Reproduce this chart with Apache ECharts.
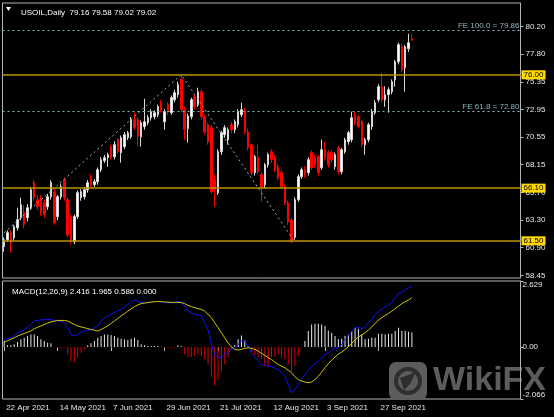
<!DOCTYPE html>
<html>
<head>
<meta charset="utf-8">
<script src="https://cdn.jsdelivr.net/npm/echarts@6/dist/echarts.min.js"></script>
<style>
html,body{margin:0;padding:0;background:#000;}
#c{width:554px;height:417px;}
</style>
</head>
<body>
<div id="c"></div>
<script>
// ---------- data ----------
const xTickLabels = ['22 Apr 2021','14 May 2021','7 Jun 2021','29 Jun 2021','21 Jul 2021','12 Aug 2021','3 Sep 2021','27 Sep 2021'];
const xTickIndex = [0,16,32,48,64,80,96,112];
const slotCount = 155;

const open = [60.99,61.60,62.20,61.77,62.64,63.52,63.96,63.52,64.39,66.58,
65.09,65.27,64.83,64.48,65.35,65.79,63.61,65.35,66.84,65.09,
63.61,61.42,63.61,65.27,65.35,65.96,67.10,66.40,66.66,67.71,
68.50,68.76,69.72,68.85,70.33,69.20,69.72,70.51,70.59,72.08,
72.08,70.59,71.47,71.82,72.25,72.34,72.51,73.56,71.90,73.39,
72.69,73.82,74.26,75.60,72.95,71.30,72.34,74.09,73.39,74.52,
72.34,71.64,71.38,66.84,65.70,69.28,70.77,70.30,71.64,71.20,
71.64,72.51,72.90,71.00,69.89,67.45,68.76,67.27,66.40,68.15,
69.28,68.76,67.97,67.45,66.23,64.83,63.30,61.80,65.09,67.10,
67.71,67.45,69.20,68.76,68.85,67.89,69.46,69.20,69.20,67.97,
69.63,67.54,69.28,70.16,70.33,72.51,72.34,71.90,69.89,70.33,
71.47,72.69,73.82,74.96,73.82,74.26,74.52,75.57,77.14,78.45,
76.62,78.28,79.16];
const close = [61.60,62.21,61.30,62.73,63.34,64.65,62.91,64.39,65.96,65.27,
64.48,63.96,63.78,65.35,66.58,63.08,65.35,66.23,65.27,62.00,
61.42,63.61,65.70,65.79,65.96,66.58,66.40,66.66,67.71,68.58,
68.76,69.02,68.76,69.89,69.28,70.51,70.77,70.94,72.08,71.38,
70.59,71.82,71.90,72.25,72.78,72.69,73.21,72.95,72.78,72.78,
74.00,74.44,75.13,72.95,71.20,72.40,73.82,73.21,74.52,72.34,
71.03,70.16,65.79,65.96,69.28,70.94,71.38,71.20,71.20,71.90,
72.78,72.95,71.00,69.63,67.45,68.85,67.54,66.14,68.15,69.02,
68.58,67.71,67.01,66.23,64.83,63.17,61.42,65.09,67.10,67.71,
67.27,68.58,67.89,68.15,67.45,69.46,68.76,68.15,68.58,69.02,
67.54,69.46,70.33,70.94,72.25,71.82,71.47,69.89,70.33,71.64,
72.78,73.56,74.96,73.82,74.26,74.70,75.40,77.14,78.63,76.44,
78.45,78.80,79.02];
const low = [60.55,61.40,60.46,61.50,62.40,63.30,62.60,63.20,64.20,65.00,
64.20,63.70,63.50,64.20,65.10,62.90,63.30,65.10,65.00,61.80,
61.20,61.20,63.40,65.00,65.10,65.70,66.10,66.20,66.40,67.50,
68.30,67.97,68.60,68.60,69.10,68.32,69.50,70.30,70.40,71.20,
69.72,69.72,71.20,71.60,72.00,72.10,72.30,72.70,71.20,72.50,
72.50,73.60,74.00,72.70,70.33,70.07,72.10,73.00,73.20,72.10,
70.80,69.90,65.60,64.48,65.50,69.00,70.50,69.90,70.90,70.90,
71.40,72.30,70.80,69.40,67.20,67.20,67.30,64.92,66.10,67.90,
68.30,67.50,66.80,66.00,64.60,62.90,61.30,61.60,64.90,66.90,
67.00,67.20,67.70,67.90,67.20,67.70,68.50,67.90,68.30,67.70,
67.30,67.30,69.10,69.90,70.10,71.60,71.30,69.70,69.02,70.10,
71.20,72.50,73.60,73.60,73.20,72.69,74.30,74.96,76.90,76.20,
74.52,78.00,79.02];
const high = [61.80,62.40,62.40,62.90,64.39,65.27,64.60,64.70,66.20,66.84,
65.50,65.50,65.10,65.60,66.80,66.00,65.50,66.50,67.01,65.30,
63.80,63.80,65.90,66.00,66.20,66.80,67.30,66.90,67.90,68.80,
69.00,69.20,69.90,70.20,70.50,70.70,71.00,71.10,72.30,72.69,
72.30,72.00,73.91,72.50,73.00,72.90,73.40,73.80,73.00,73.60,
74.20,74.70,75.40,76.01,73.20,72.60,74.00,74.30,74.87,74.70,
72.50,71.80,71.60,67.30,69.50,71.10,71.60,71.40,71.90,72.10,
73.00,73.56,73.10,71.30,70.00,69.00,69.89,67.50,68.30,69.20,
69.50,69.00,68.20,67.70,66.40,65.00,63.50,65.30,67.30,67.90,
68.00,68.80,69.40,69.00,69.00,70.33,70.16,69.40,69.40,69.20,
69.80,69.60,70.50,71.10,72.78,72.78,72.50,72.10,70.50,71.80,
73.00,73.80,75.20,76.18,75.00,74.90,75.60,77.30,78.80,78.70,
78.60,79.59,79.58];

const macdMain = [0.31,0.33,0.37,0.46,0.57,0.62,0.70,0.80,0.90,1.04,
1.06,1.08,1.09,1.10,1.10,1.06,1.04,1.02,0.97,0.77,
0.50,0.44,0.50,0.58,0.64,0.66,0.70,0.76,0.84,1.04,
1.15,1.24,1.30,1.37,1.44,1.50,1.58,1.70,1.80,1.87,
1.82,1.77,1.76,1.77,1.79,1.81,1.82,1.79,1.76,1.77,
1.76,1.77,1.82,1.79,1.63,1.43,1.36,1.30,1.28,1.24,
0.97,0.70,0.11,-0.29,-0.42,-0.39,-0.29,-0.23,-0.09,-0.03,
0.11,0.24,0.24,0.01,-0.23,-0.39,-0.56,-0.69,-0.73,-0.76,
-0.78,-0.84,-0.89,-1.02,-1.16,-1.49,-1.82,-1.69,-1.49,-1.29,
-1.09,-0.93,-0.78,-0.66,-0.56,-0.42,-0.29,-0.23,-0.13,-0.05,
-0.03,0.11,0.31,0.44,0.64,0.77,0.80,0.73,0.81,0.97,
1.10,1.30,1.43,1.50,1.61,1.67,1.77,1.97,2.14,2.16,
2.27,2.36,2.416];
const macdSignal = [0.20,0.25,0.31,0.37,0.44,0.49,0.54,0.59,0.64,0.73,
0.79,0.84,0.90,0.95,1.00,1.03,1.06,1.06,1.06,1.04,
0.97,0.90,0.84,0.80,0.77,0.73,0.70,0.67,0.64,0.70,
0.77,0.84,0.94,1.04,1.14,1.24,1.33,1.43,1.52,1.61,
1.68,1.73,1.75,1.77,1.79,1.81,1.81,1.81,1.80,1.79,
1.78,1.78,1.78,1.77,1.73,1.66,1.61,1.57,1.53,1.50,
1.43,1.30,1.17,0.97,0.77,0.57,0.37,0.17,0.01,-0.09,
-0.12,-0.09,-0.05,-0.03,-0.05,-0.09,-0.16,-0.25,-0.33,-0.42,
-0.49,-0.60,-0.69,-0.76,-0.82,-0.92,-1.02,-1.18,-1.29,-1.35,
-1.39,-1.42,-1.39,-1.29,-1.16,-1.00,-0.82,-0.66,-0.52,-0.39,
-0.28,-0.20,-0.09,0.01,0.15,0.28,0.40,0.48,0.57,0.68,
0.80,0.94,1.08,1.17,1.26,1.34,1.43,1.53,1.63,1.73,
1.81,1.87,1.965];
const macdHist = [0.25,0.07,0.07,0.11,0.20,0.31,0.37,0.44,0.50,0.50,
0.44,0.31,0.24,0.17,0.15,-0.01,-0.03,-0.07,-0.03,-0.29,
-0.56,-0.60,-0.39,-0.23,-0.09,0.07,0.15,0.24,0.37,0.44,
0.50,0.50,0.48,0.44,0.37,0.33,0.31,0.28,0.33,0.37,
0.28,0.11,0.07,0.04,0.04,0.04,0.04,0.01,-0.03,-0.05,
-0.05,-0.03,0.07,0.04,-0.29,-0.39,-0.39,-0.36,-0.29,-0.36,
-0.49,-0.69,-1.18,-1.53,-1.29,-0.96,-0.69,-0.42,-0.09,0.07,
0.31,0.46,0.27,0.04,-0.20,-0.33,-0.39,-0.46,-0.76,-0.76,
-0.39,-0.39,-0.29,-0.42,-0.49,-0.69,-0.96,-0.76,-0.36,-0.03,
0.24,0.64,0.90,0.93,0.93,0.90,0.84,0.66,0.57,0.44,
0.31,0.33,0.44,0.50,0.64,0.77,0.73,0.50,0.31,0.33,
0.37,0.37,0.53,0.53,0.50,0.53,0.53,0.64,0.77,0.64,
0.64,0.61,0.586];

const priceTicks = [58.45,60.90,63.30,65.70,68.15,70.55,72.95,75.35,77.80,80.20];
const macdTicks = [-2.066,0,2.629];
const levelLines = [76.00,66.10,61.50];
const feLevels = [{name:'FE 100.0', price:79.86},{name:'FE 61.8', price:72.80}];
const fiboIdx = [0,53,87];
const fiboPrice = [62.21,76.01,61.38];
const lastPrice = 79.02;
const titleText = 'USOIL,Daily  79.16 79.58 79.02 79.02';
const macdText = 'MACD(12,26,9) 2.416 1.965 0.586 0.000';

// ---------- build ----------
const categories = Array.from({length: slotCount}, (_, i) => String(i));
const labelAt = {};
xTickIndex.forEach((ix, k) => labelAt[ix] = xTickLabels[k]);
const candles = open.map((o, i) => [o, close[i], low[i], high[i]]);
const fiboLine = fiboIdx.map((ix, k) => [String(ix), fiboPrice[k]]);

const FONT = 'Liberation Sans';
const GREY = '#b4b4b4';
const FE_COLOR = '#8ab8c0';
const GOLD = '#b89400';

const chart = echarts.init(document.getElementById('c'), null, {renderer: 'canvas'});

const markData = [];
levelLines.forEach(v => markData.push({
  yAxis: v,
  lineStyle: {color: GOLD, width: 1.5, type: 'solid'},
  label: {show: true, position: 'end', distance: 1, formatter: v.toFixed(2),
    backgroundColor: '#ffd800', color: '#000', padding: [1, 2, 0, 2],
    fontSize: 8, fontFamily: FONT}
}));
feLevels.forEach(f => markData.push({
  yAxis: f.price,
  lineStyle: {color: FE_COLOR, width: 1, type: [2, 3]},
  label: {show: true, position: 'insideEndTop', distance: 1,
    formatter: f.name + ' = ' + f.price.toFixed(2),
    color: FE_COLOR, fontSize: 8, fontFamily: FONT}
}));
markData.push({
  yAxis: lastPrice,
  lineStyle: {opacity: 0},
  label: {show: true, position: 'end', distance: 1, formatter: lastPrice.toFixed(2),
    backgroundColor: '#ffffff', color: '#000', borderColor: '#808080', borderWidth: 1,
    padding: [1, 2, 0, 2], fontSize: 8, fontFamily: FONT}
});

const option = {
  backgroundColor: '#000000',
  animation: false,
  textStyle: {fontFamily: FONT},
  title: [
    {text: titleText, left: 16, top: 4, textStyle: {color: '#ffffff', fontSize: 8, fontWeight: 'normal', fontFamily: FONT}},
    {text: macdText, left: 7, top: 283, textStyle: {color: '#ffffff', fontSize: 8, fontWeight: 'normal', fontFamily: FONT}}
  ],
  grid: [
    {left: 2.5, top: 3, width: 518, height: 275, show: true, borderColor: GREY, borderWidth: 1, backgroundColor: 'transparent'},
    {left: 2.5, top: 281, width: 518, height: 118, show: true, borderColor: GREY, borderWidth: 1, backgroundColor: 'transparent'}
  ],
  xAxis: [
    {gridIndex: 0, type: 'category', data: categories, boundaryGap: true,
      axisLine: {show: false}, axisTick: {show: false}, axisLabel: {show: false}, splitLine: {show: false}},
    {gridIndex: 1, type: 'category', data: categories, boundaryGap: true,
      axisLine: {show: false},
      axisTick: {show: true, alignWithLabel: true, length: 4, interval: (i) => labelAt[i] !== undefined, lineStyle: {color: GREY}},
      axisLabel: {show: true, interval: (i) => labelAt[i] !== undefined, formatter: (v, i) => labelAt[i] || '',
        align: 'left', padding: [0, 0, 0, 2], margin: 5, color: '#e6e6e6', fontSize: 8, fontFamily: FONT,
        hideOverlap: false},
      splitLine: {show: false}}
  ],
  yAxis: [
    {gridIndex: 0, type: 'value', position: 'right', min: 58.25, max: 82.27, scale: true,
      axisLine: {show: true, lineStyle: {color: GREY}},
      axisTick: {show: true, inside: false, length: 3, customValues: priceTicks, lineStyle: {color: GREY}},
      axisLabel: {show: true, customValues: priceTicks, formatter: v => Number(v).toFixed(2), margin: 5,
        color: '#e6e6e6', fontSize: 8, fontFamily: FONT},
      splitLine: {show: false}},
    {gridIndex: 1, type: 'value', position: 'right', min: -2.066, max: 2.629,
      axisLine: {show: true, lineStyle: {color: GREY}},
      axisTick: {show: true, inside: false, length: 3, customValues: macdTicks, lineStyle: {color: GREY}},
      axisLabel: {show: true, customValues: macdTicks, margin: 2,
        formatter: v => (Math.abs(v) < 1e-9 ? '0.00' : Number(v).toFixed(3)),
        verticalAlignMinLabel: 'bottom', verticalAlignMaxLabel: 'top',
        color: '#e6e6e6', fontSize: 8, fontFamily: FONT},
      splitLine: {show: false}}
  ],
  series: [
    {type: 'candlestick', xAxisIndex: 0, yAxisIndex: 0, data: candles, barWidth: 2,
      itemStyle: {color: '#ffffff', borderColor: '#d8d8d8', color0: '#ff0000', borderColor0: '#ff0000', borderWidth: 1},
      markLine: {silent: true, symbol: ['none', 'none'], animation: false, data: markData}},
    {type: 'line', xAxisIndex: 0, yAxisIndex: 0, data: fiboLine, showSymbol: false, symbol: 'none',
      lineStyle: {color: FE_COLOR, width: 1, type: [2, 3]}, silent: true, z: 3},
    {type: 'bar', xAxisIndex: 1, yAxisIndex: 1, data: macdHist, barWidth: 1,
      itemStyle: {color: p => (p.value >= 0 ? '#e8e8e8' : '#e00000')}, silent: true},
    {type: 'line', xAxisIndex: 1, yAxisIndex: 1, data: macdMain, showSymbol: false, symbol: 'none',
      lineStyle: {color: '#1010ff', width: 1}, silent: true, z: 4},
    {type: 'line', xAxisIndex: 1, yAxisIndex: 1, data: macdSignal, showSymbol: false, symbol: 'none',
      lineStyle: {color: '#d2c800', width: 1}, silent: true, z: 4}
  ],
  graphic: [
    {type: 'polygon', shape: {points: [[6, 7], [11, 7], [8.5, 11]]}, style: {fill: '#ffffff'}, z: 100},
    {type: 'group', z: 100, children: [
      {type: 'rect', shape: {x: 389, y: 362, width: 38, height: 38, r: 7}, style: {fill: '#5c5c5c'}},
      {type: 'circle', shape: {cx: 408, cy: 381, r: 12}, style: {fill: 'none', stroke: '#2e2e2e', lineWidth: 4}},
      {type: 'polygon', shape: {points: [[400, 378], [416, 372], [410, 384], [404, 390]]}, style: {fill: '#2e2e2e'}},
      {type: 'text', x: 433, y: 381, style: {text: 'WikiFX', fill: '#5c5c5c', font: 'bold 34px "Liberation Sans"', verticalAlign: 'middle', align: 'left'}}
    ]}
  ]
};
chart.setOption(option);
</script>
</body>
</html>
